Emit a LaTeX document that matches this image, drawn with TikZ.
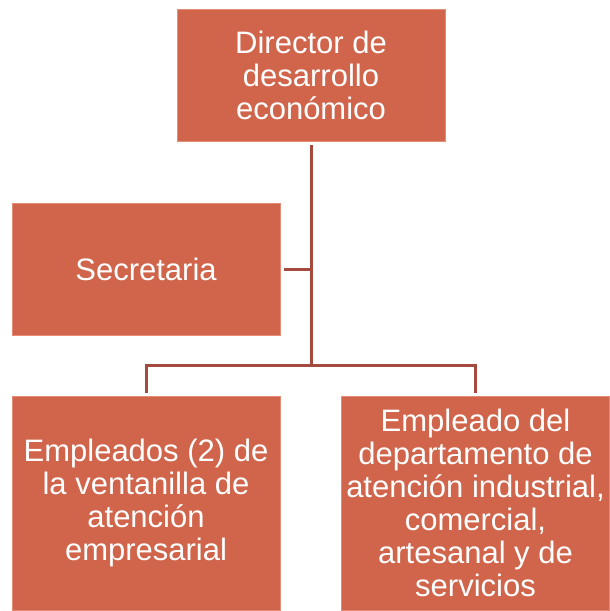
\documentclass[tikz,border=0pt]{standalone}
\usepackage{fontspec}
\setmainfont{Liberation Sans}
\definecolor{boxfill}{RGB}{208,101,75}
\definecolor{boxedge}{RGB}{228,140,118}
\definecolor{connc}{RGB}{164,74,63}
\begin{document}
\begin{tikzpicture}[x=1pt,y=-1pt,
  orgbox/.style={rectangle, fill=boxfill, draw=boxedge, line width=0.6pt, inner sep=0pt,
    text=white, align=center, font=\fontsize{31}{33}\selectfont},
  conn/.style={draw=connc, line width=3pt}]
\useasboundingbox (0,0) rectangle (610,611);
\node[orgbox, minimum width=268, minimum height=132] (top) at (311,75) {Director de\\desarrollo\\económico};
\node[orgbox, minimum width=268, minimum height=132] (sec) at (146,269) {Secretaria};
\node[orgbox, minimum width=268, minimum height=214] (lb) at (146,503) {Empleados (2) de\\la ventanilla de\\atención\\empresarial};
\node[orgbox, minimum width=268, minimum height=214] (rb) at (475.5,503) {Empleado del\\departamento de\\atención industrial,\\comercial,\\artesanal y de\\servicios};
\coordinate (bus) at (311,365.5);
\draw[conn, shorten <=4pt] (top.south) -- (bus);
\draw[conn, shorten <=3pt, shorten >=3pt] (lb.north) |- (bus) -| (rb.north);
\draw[conn, shorten <=4pt] (sec.east) -- (sec.east -| bus);
\end{tikzpicture}
\end{document}
